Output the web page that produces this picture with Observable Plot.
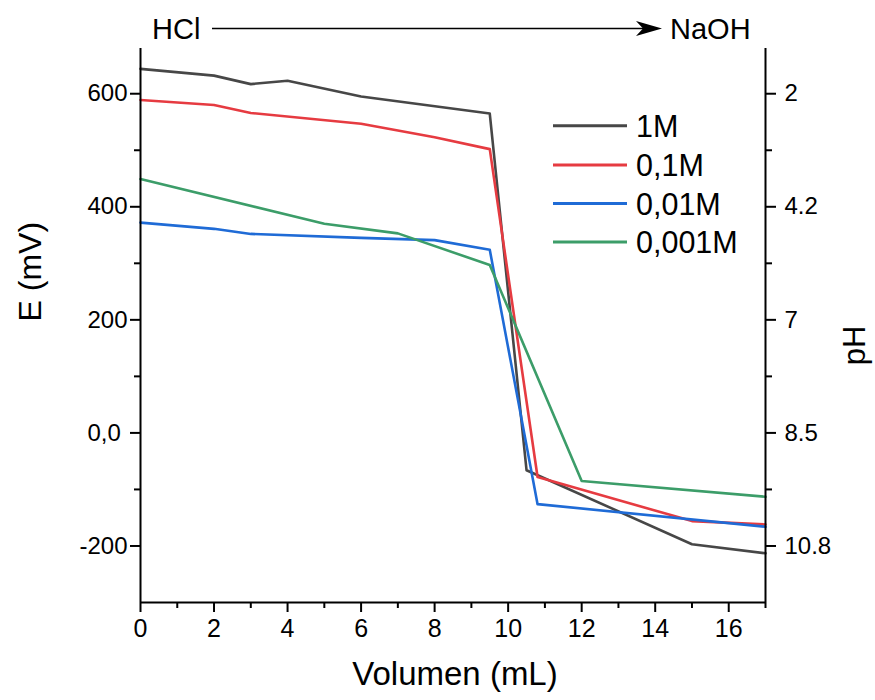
<!DOCTYPE html>
<html>
<head>
<meta charset="utf-8">
<script src="https://cdn.jsdelivr.net/npm/d3@7"></script>
<script src="https://cdn.jsdelivr.net/npm/@observablehq/plot@0.6"></script>
<style>
  html, body { margin: 0; padding: 0; background: #fff; }
  #wrap { position: relative; width: 875px; height: 700px; overflow: hidden; font-family: "Liberation Sans", Arial, sans-serif; }
  #wrap > svg { position: absolute; left: 0; top: 0; }
</style>
</head>
<body>
<div id="wrap"></div>
<script>
// ---- data ----
const seriesNames = ["1M", "0,1M", "0,01M", "0,001M"];
const seriesColors = ["#474747", "#e63b41", "#1f6bd6", "#3c9d69"];

const vol1M = [0, 2, 3, 4, 6, 9.5, 10.5, 15, 17];
const e1M   = [644, 632, 617, 623, 595, 565, -66, -197, -213];

const vol01M = [0, 2, 3, 6, 8, 9.5, 10.8, 15, 17];
const e01M   = [589, 580, 566, 547, 523, 502, -78, -156, -162];

const vol001M = [0, 2, 3, 6, 8, 9.5, 10.8, 17];
const e001M   = [372, 361, 352, 345, 341, 324, -126, -166];

const vol0001M = [0, 5, 7, 9.5, 12, 17];
const e0001M   = [449, 370, 353, 297, -85, -113];

const xMajor = [0, 2, 4, 6, 8, 10, 12, 14, 16];
const xMinor = [1, 3, 5, 7, 9, 11, 13, 15, 17];
const yMajor = [600, 400, 200, 0, -200];
const yMinor = [500, 300, 100, -100];
const yLeftLabels = ["600", "400", "200", "0,0\u00A0", "-200"];
const pHLabels = ["2", "4.2", "7", "8.5", "10.8"];
const xDomain = [0, 17];
const yDomain = [-300, 680];

// ---- build table ----
const vols = [vol1M, vol01M, vol001M, vol0001M];
const es = [e1M, e01M, e001M, e0001M];
const rows = [];
seriesNames.forEach((name, i) => {
  vols[i].forEach((v, j) => rows.push({series: name, vol: v, e: es[i][j]}));
});

const font = "'Liberation Sans', Arial, sans-serif";

const chart = Plot.plot({
  width: 875,
  height: 700,
  marginLeft: 140,
  marginRight: 110,
  marginTop: 48,
  marginBottom: 98,
  style: {fontFamily: font, color: "#000", background: "transparent", overflow: "visible"},
  x: {domain: xDomain},
  y: {domain: yDomain},
  color: {domain: seriesNames, range: seriesColors},
  marks: [
    Plot.line(rows, {x: "vol", y: "e", z: "series", stroke: "series", strokeWidth: 2.6}),
    // axis lines
    Plot.ruleX(xDomain, {stroke: "#000", strokeWidth: 2}),
    Plot.ruleY([yDomain[0]], {stroke: "#000", strokeWidth: 2}),
    // bottom axis
    Plot.axisX({ticks: xMajor, tickSize: 10, tickPadding: 7, fontSize: 25, strokeWidth: 2, label: null, tickFormat: d => String(d)}),
    Plot.axisX({ticks: xMinor, tickSize: 6, strokeWidth: 2, label: null, tickFormat: () => ""}),
    // left axis
    Plot.axisY({anchor: "left", ticks: yMajor, tickSize: 10, tickPadding: 3, fontSize: 24, strokeWidth: 2, label: null,
      tickFormat: d => yLeftLabels[yMajor.indexOf(d)]}),
    Plot.axisY({anchor: "left", ticks: yMinor, tickSize: 6, strokeWidth: 2, label: null, tickFormat: () => ""}),
    // right axis (pH)
    Plot.axisY({anchor: "right", ticks: yMajor, tickSize: 10, tickPadding: 9, fontSize: 24, strokeWidth: 2, label: null,
      tickFormat: d => pHLabels[yMajor.indexOf(d)]}),
    Plot.axisY({anchor: "right", ticks: yMinor, tickSize: 6, strokeWidth: 2, label: null, tickFormat: () => ""}),
    // axis titles
    Plot.text(["Volumen (mL)"], {frameAnchor: "bottom", dy: 82, dx: 2, fontSize: 33, fill: "#000"}),
    Plot.text(["E (mV)"], {frameAnchor: "left", dx: -110, dy: -4, rotate: -90, fontSize: 32, fill: "#000"}),
    Plot.text(["pH"], {frameAnchor: "right", dx: 90, rotate: -90, fontSize: 31, fill: "#000"})
  ]
});

const wrap = document.getElementById("wrap");
wrap.appendChild(chart);

// ---- overlay: header arrow and legend ----
const ov = d3.select(wrap).append("svg")
  .attr("width", 875).attr("height", 700)
  .style("font-family", font);

const arrowY = 28.5;
ov.append("text").attr("x", 152).attr("y", 39).attr("font-size", 29).text("HCl");
ov.append("line").attr("x1", 212).attr("x2", 648).attr("y1", arrowY).attr("y2", arrowY)
  .attr("stroke", "#000").attr("stroke-width", 1.6);
ov.append("path")
  .attr("d", `M662,${arrowY} L636,${arrowY - 7.5} L643,${arrowY} L636,${arrowY + 7.5} Z`)
  .attr("fill", "#000");
ov.append("text").attr("x", 670).attr("y", 39).attr("font-size", 29).text("NaOH");

const legendRowsY = [125.7, 165, 203.5, 242];
const lg = ov.append("g");
seriesNames.forEach((name, i) => {
  const y = legendRowsY[i];
  lg.append("line").attr("x1", 553).attr("x2", 627).attr("y1", y).attr("y2", y)
    .attr("stroke", seriesColors[i]).attr("stroke-width", 3);
  lg.append("text").attr("x", 636).attr("y", y + 11).attr("font-size", 30.5).text(name);
});
</script>
</body>
</html>
